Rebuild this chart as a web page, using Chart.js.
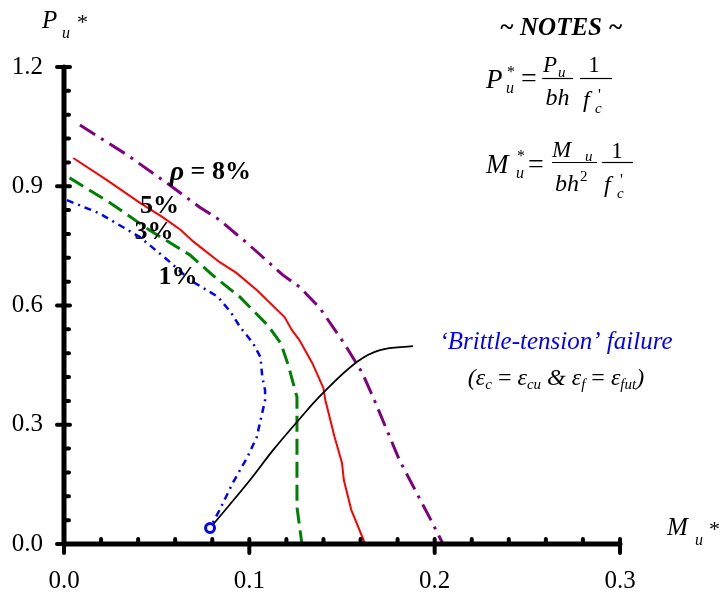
<!DOCTYPE html>
<html>
<head>
<meta charset="utf-8">
<style>
  html, body { margin: 0; padding: 0; background: #fff; }
  #wrap { width: 723px; height: 596px; }
</style>
<script src="https://cdn.jsdelivr.net/npm/chart.js@4/dist/chart.umd.min.js"></script>
</head>
<body>
<div id="wrap"><canvas id="c" width="723" height="596"></canvas></div>
<script>
// Normalised interaction diagram: axial load P_u* against moment M_u*
// for four reinforcement ratios, plus the brittle-tension failure locus.

const ratioLabels = ['ρ = 8%', '5%', '3%', '1%'];

// ρ = 8 %
const rho8M = [0.0086, 0.034, 0.057, 0.073, 0.084, 0.100, 0.118, 0.127, 0.138, 0.151, 0.161, 0.167, 0.181, 0.198, 0.2045];
const rho8P = [1.054, 0.979, 0.903, 0.848, 0.815, 0.752, 0.677, 0.647, 0.594, 0.506, 0.430, 0.367, 0.211, 0.060, 0.0];

// ρ = 5 %
const rho5M = [0.005, 0.023, 0.041, 0.053, 0.063, 0.070, 0.084, 0.093, 0.104, 0.119, 0.123, 0.127, 0.134, 0.138, 0.140, 0.141, 0.146, 0.150, 0.151, 0.155, 0.1625];
const rho5P = [0.971, 0.916, 0.858, 0.823, 0.790, 0.760, 0.709, 0.682, 0.639, 0.571, 0.538, 0.513, 0.455, 0.413, 0.392, 0.362, 0.269, 0.204, 0.161, 0.086, 0.0];

// ρ = 3 %
const rho3M = [0.003, 0.025, 0.046, 0.068, 0.080, 0.095, 0.110, 0.117, 0.121, 0.1257, 0.1257, 0.1275, 0.1284];
const rho3P = [0.921, 0.858, 0.790, 0.727, 0.677, 0.621, 0.550, 0.505, 0.450, 0.370, 0.093, 0.030, 0.0];

// ρ = 1 %
const rho1M = [0.0016, 0.019, 0.041, 0.056, 0.068, 0.083, 0.090, 0.095, 0.102, 0.106, 0.107, 0.1085, 0.1085, 0.104, 0.099, 0.091, 0.084, 0.0788];
const rho1P = [0.865, 0.832, 0.772, 0.714, 0.664, 0.622, 0.583, 0.546, 0.505, 0.470, 0.420, 0.387, 0.362, 0.269, 0.219, 0.153, 0.086, 0.040];

// Leader from the brittle-tension point to its note
const leaderM = [0.0788, 0.1004, 0.1128, 0.1257, 0.1398, 0.158, 0.1705, 0.1883];
const leaderP = [0.040, 0.161, 0.236, 0.307, 0.380, 0.458, 0.488, 0.498];

// Brittle-tension failure point (end of the 1 % curve)
const brittleM = [0.0788];
const brittleP = [0.040];

const xTicks = [0.0, 0.1, 0.2, 0.3];
const yTicks = [0.0, 0.3, 0.6, 0.9, 1.2];

const pts = (xs, ys) => xs.map((x, i) => ({ x: x, y: ys[i] }));

const SERIF = '"Liberation Serif", "Times New Roman", serif';
const f = (style, size) => `${style} ${size}px ${SERIF}`;

// draw a sequence of text runs: [text, font, dy, color]
function runWidth(ctx, parts) {
  let w = 0;
  for (const p of parts) { ctx.font = p[1]; w += ctx.measureText(p[0]).width; }
  return w;
}
function drawRuns(ctx, x, y, parts, color) {
  let cx = x;
  for (const p of parts) {
    ctx.font = p[1];
    ctx.fillStyle = p[3] || color || '#000';
    ctx.fillText(p[0], cx, y + (p[2] || 0));
    cx += ctx.measureText(p[0]).width;
  }
}
function drawRunsCentered(ctx, cx, y, parts, color) {
  drawRuns(ctx, cx - runWidth(ctx, parts) / 2, y, parts, color);
}
function txt(ctx, s, font, x, y) {
  ctx.font = font;
  ctx.fillStyle = '#000';
  ctx.fillText(s, x, y);
}
function hline(ctx, x1, x2, y, w) {
  ctx.beginPath();
  ctx.lineWidth = w || 1.2;
  ctx.strokeStyle = '#000';
  ctx.moveTo(x1, y); ctx.lineTo(x2, y);
  ctx.stroke();
}

// thick axes with major ticks crossing the line and minor ticks inside
const axisFrame = {
  id: 'axisFrame',
  afterDatasetsDraw(chart) {
    const ctx = chart.ctx;
    const xs = chart.scales.x, ys = chart.scales.y;
    const x0 = xs.getPixelForValue(xs.min), x1 = xs.getPixelForValue(xs.max);
    const y0 = ys.getPixelForValue(ys.min), y1 = ys.getPixelForValue(ys.max);
    ctx.save();
    ctx.strokeStyle = '#000';
    ctx.lineCap = 'round';
    ctx.lineWidth = 5;
    ctx.beginPath();
    ctx.moveTo(x0, y1); ctx.lineTo(x0, y0);
    ctx.moveTo(x0, y0); ctx.lineTo(x1, y0);
    ctx.stroke();

    ctx.lineWidth = 4;
    ctx.beginPath();
    // minor ticks
    for (let i = 0; i <= 15; i++) {
      const px = xs.getPixelForValue(i * 0.02);
      ctx.moveTo(px, y0); ctx.lineTo(px, y0 - 5);
    }
    for (let i = 0; i <= 20; i++) {
      const py = ys.getPixelForValue(i * 0.06);
      ctx.moveTo(x0, py); ctx.lineTo(x0 + 5, py);
    }
    // major ticks
    for (const v of xTicks) {
      const px = xs.getPixelForValue(v);
      ctx.moveTo(px, y0 - 5); ctx.lineTo(px, y0 + 9);
    }
    for (const v of yTicks) {
      const py = ys.getPixelForValue(v);
      ctx.moveTo(x0 - 7, py); ctx.lineTo(x0 + 6, py);
    }
    ctx.stroke();
    ctx.restore();
  }
};

// curve labels, axis titles, notes and the failure annotation
const annotations = {
  id: 'annotations',
  afterDraw(chart) {
    const ctx = chart.ctx;
    const xs = chart.scales.x, ys = chart.scales.y;
    ctx.save();
    ctx.textBaseline = 'middle';
    ctx.textAlign = 'left';
    ctx.fillStyle = '#000';
    const labelAt = [[0.057, 0.935], [0.041, 0.850], [0.038, 0.785], [0.051, 0.672]];
    ratioLabels.forEach((t, i) => {
      const px = xs.getPixelForValue(labelAt[i][0]);
      const py = ys.getPixelForValue(labelAt[i][1]);
      if (t.charAt(0) === 'ρ') {
        drawRuns(ctx, px, py, [['ρ', f('italic bold', 28)], [t.slice(1), f('bold', 26)]]);
      } else {
        drawRuns(ctx, px, py, [[t, f('bold', 26)]]);
      }
    });

    ctx.textBaseline = 'alphabetic';
    // axis titles
    txt(ctx, 'P', f('italic', 25), 42, 28);
    txt(ctx, 'u', f('italic', 16), 62, 38);
    txt(ctx, '*', f('normal', 22), 77, 29);
    txt(ctx, 'M', f('italic', 25), 667, 535);
    txt(ctx, 'u', f('italic', 16), 695, 545);
    txt(ctx, '*', f('normal', 22), 709, 536);

    // notes
    drawRunsCentered(ctx, 561, 35, [['~ NOTES ~', f('italic bold', 25)]]);

    // P_u* = P_u / bh · 1 / f'_c
    txt(ctx, 'P', f('italic', 27), 486, 88);
    txt(ctx, '*', f('normal', 16), 507, 77);
    txt(ctx, 'u', f('italic', 16), 506, 93);
    txt(ctx, '=', f('normal', 28), 521, 87);
    txt(ctx, 'P', f('italic', 23), 543, 72);
    txt(ctx, 'u', f('italic', 15), 558, 77);
    hline(ctx, 542, 573, 78.5);
    drawRunsCentered(ctx, 557.5, 105, [['bh', f('italic', 24)]]);
    drawRunsCentered(ctx, 594, 72, [['1', f('normal', 23)]]);
    hline(ctx, 580, 612, 78.5);
    txt(ctx, 'f', f('italic', 24), 583, 107);
    txt(ctx, "'", f('normal', 16), 598, 100);
    txt(ctx, 'c', f('italic', 15), 595, 113);

    // M_u* = M_u / bh² · 1 / f'_c
    txt(ctx, 'M', f('italic', 27), 486, 173);
    txt(ctx, '*', f('normal', 16), 517, 161);
    txt(ctx, 'u', f('italic', 16), 516, 178);
    txt(ctx, '=', f('normal', 28), 528, 173);
    txt(ctx, 'M', f('italic', 23), 552, 157);
    txt(ctx, 'u', f('italic', 15), 585, 161);
    hline(ctx, 552, 597, 162.5);
    txt(ctx, 'bh', f('italic', 24), 555, 191);
    txt(ctx, '2', f('normal', 15), 580, 181);
    drawRunsCentered(ctx, 617, 158, [['1', f('normal', 23)]]);
    hline(ctx, 602, 633, 162.5);
    txt(ctx, 'f', f('italic', 24), 604, 192);
    txt(ctx, "'", f('normal', 16), 620, 185);
    txt(ctx, 'c', f('italic', 15), 617, 198);

    // failure annotation
    drawRunsCentered(ctx, 556, 349, [['\u2018Brittle-tension\u2019 failure', f('italic', 25)]], '#0000FF');
    const it = f('italic', 24), up = f('normal', 24), sub = f('italic', 15);
    drawRunsCentered(ctx, 556, 385, [
      ['(', it], ['\u03B5', it], ['c', sub, 4], [' = ', up], ['\u03B5', it], ['cu', sub, 4],
      [' & ', it], ['\u03B5', it], ['f', sub, 4], [' = ', up], ['\u03B5', it], ['fut', sub, 4], [')', it]
    ]);
    ctx.restore();
  }
};

const lineSet = (data, color, width, dash, extra) => Object.assign({
  data: data, showLine: true, fill: false, borderColor: color, backgroundColor: color,
  borderWidth: width, borderDash: dash, pointRadius: 0, pointHoverRadius: 0, tension: 0
}, extra || {});

new Chart(document.getElementById('c'), {
  type: 'scatter',
  data: {
    datasets: [
      {
        data: pts(brittleM, brittleP), showLine: false,
        pointRadius: 4.5, pointHoverRadius: 4.5, pointStyle: 'circle',
        borderColor: '#0000FF', backgroundColor: '#FFFFFF', borderWidth: 3
      },
      lineSet(pts(leaderM, leaderP), '#000000', 1.8, [], { tension: 0.4 }),
      lineSet(pts(rho8M, rho8P), '#800080', 3, [18, 7, 3, 7]),
      lineSet(pts(rho5M, rho5P), '#FF0000', 2, []),
      lineSet(pts(rho3M, rho3P), '#008000', 3, [16, 7]),
      lineSet(pts(rho1M, rho1P), '#0000FF', 2.5, [7, 5, 2, 5])
    ]
  },
  options: {
    responsive: false,
    animation: false,
    devicePixelRatio: 1,
    events: [],
    layout: { padding: { left: 0, top: 67, right: 103, bottom: 0 } },
    plugins: { legend: { display: false }, tooltip: { enabled: false } },
    scales: {
      x: {
        type: 'linear', min: 0, max: 0.3,
        afterFit: s => { s.height = 52; },
        afterBuildTicks: s => { s.ticks = xTicks.map(v => ({ value: v })); },
        grid: { display: false, drawTicks: false },
        border: { display: false },
        ticks: {
          autoSkip: false, maxRotation: 0, padding: 22, color: '#000',
          font: { family: SERIF, size: 25 },
          callback: v => Number(v).toFixed(1)
        }
      },
      y: {
        type: 'linear', min: 0, max: 1.2,
        afterFit: s => { s.width = 64; },
        afterBuildTicks: s => { s.ticks = yTicks.map(v => ({ value: v })); },
        grid: { display: false, drawTicks: false },
        border: { display: false },
        ticks: {
          autoSkip: false, padding: 21, color: '#000',
          font: { family: SERIF, size: 25 },
          callback: v => Number(v).toFixed(1)
        }
      }
    }
  },
  plugins: [axisFrame, annotations]
});
</script>
</body>
</html>
